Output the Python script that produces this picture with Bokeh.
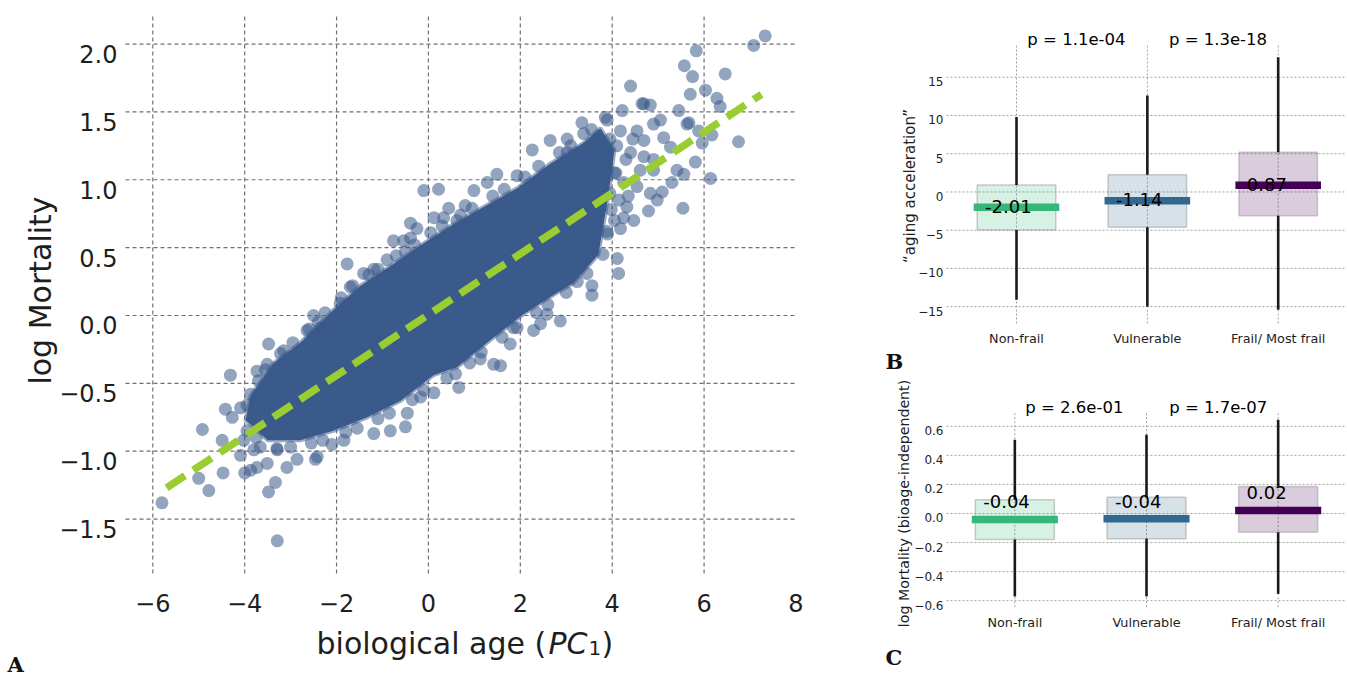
import math
from bokeh.plotting import figure
from bokeh.layouts import row, column
from bokeh.models import Range1d
from bokeh.core.properties import value
from bokeh.embed import file_html
from bokeh.resources import INLINE

# ---------------- Panel A data ----------------
pc1_x = [
    -5.80, -5.00, -4.78, -4.92, -4.47, -4.31, -3.48, -3.33, -3.29, -4.00,
    -4.42, -4.27, -4.49, -4.09, -3.87, -3.73, -3.51, -3.08, -2.86, -2.46,
    -3.48, -3.22, -3.51, -3.73, -3.87, -4.02, -3.80, -2.10, -1.84, -4.09,
    -3.66, -3.29, -2.42, -1.19, -0.83, -0.50, -0.46, 0.12, 0.66, 0.59,
    1.13, 1.57, 1.78, -0.17, 2.29, 3.56, 3.56, 2.87, 2.44, 1.93,
    1.42, 2.58, 3.24, 7.33, 7.08, 5.83, 5.57, 5.75, 6.46, 4.40,
    5.70, 6.03, 6.28, 4.65, 4.83, 5.45, 6.35, 6.75, 5.96, 6.17,
    5.88, 5.63, 5.81, 5.56, 5.41, 6.14, 5.54, 5.30, 5.09, 4.98,
    4.79, 4.90, 5.12, 5.05, 4.18, 4.11, 4.14, 2.26, 2.65, 3.02,
    3.34, 3.38, 1.49, 1.28, 0.99, 0.80, 0.22, -0.10, 0.44, -0.39,
    -0.54, 4.22, 3.85, 4.90, 5.27, 5.67, 4.69, 4.61, 4.47, 4.32,
    4.18, 4.54, 3.89, 4.69, 4.90, 4.83, 4.54, 0.62, 1.93, 3.02,
    4.69, -0.25, -0.76, -0.39, -1.77, -0.90, -1.19, -1.41, -1.70, 0.12,
    0.33, -2.50, -2.64, -2.35, -1.92, 3.95, 4.10, 4.30, 4.05, 4.25,
    4.40, 3.95, 4.15, 4.35, 4.05, 4.25, 3.90, 4.45,
    -3.95, -3.70, -3.55, -3.15, -2.95, -2.60, -2.40, -2.25, -1.90, -1.65,
    -1.30, -1.10, -0.70, -0.50, -0.30, 0.05, 0.30, 0.70, 0.95, 1.40,
    1.65, 2.10, 2.40, 2.85, 3.10, 3.55,
    4.08, 3.98, 3.88, 3.80, 3.45, 3.00, 2.60, 2.35, 1.85, 1.60,
    1.15, 0.90, 0.40, -0.10, -0.35, -0.85, -1.10, -1.55, -1.80, -2.30,
    -2.55, -3.00, -3.30, -3.75, -3.95,
]
logmort_y = [
    -1.38, -1.20, -1.29, -0.84, -1.16, -0.44, -1.30, -1.23, -1.66, -1.16,
    -0.69, -0.75, -0.92, -1.03, -1.14, -1.12, -1.09, -1.12, -1.06, -1.06,
    -0.21, -0.28, -0.36, -0.41, -0.58, -0.92, -0.99, -0.95, -0.92, -0.68,
    -0.97, -0.99, -1.04, -0.87, -0.85, -0.82, -0.72, -0.57, -0.53, -0.43,
    -0.32, -0.37, -0.21, -0.60, -0.11, 0.22, 0.15, -0.04, -0.06, -0.09,
    -0.36, 0.01, 0.25, 2.06, 1.99, 1.95, 1.84, 1.76, 1.78, 1.69,
    1.63, 1.66, 1.60, 1.56, 1.55, 1.51, 1.54, 1.28, 1.27, 1.33,
    1.36, 1.41, 1.13, 1.04, 1.07, 1.01, 0.79, 0.98, 0.91, 0.85,
    0.77, 1.15, 1.31, 1.44, 0.64, 0.42, 0.31, 1.22, 1.29, 1.30,
    1.42, 1.34, 1.04, 0.98, 0.92, 0.81, 0.93, 0.92, 0.79, 0.68,
    0.55, 1.51, 1.46, 1.41, 1.24, 1.42, 1.17, 1.07, 0.70, 0.80,
    1.36, 1.36, 1.44, 1.29, 1.07, 0.90, 0.95, 0.70, 1.03, 1.20,
    1.56, 0.64, 0.55, 0.57, 0.38, 0.41, 0.34, 0.31, 0.21, 0.72,
    0.72, 0.00, -0.11, -0.09, 0.09, 1.30, 1.25, 1.15, 1.05, 0.98,
    1.20, 0.90, 0.85, 0.88, 0.70, 0.72, 0.60, 1.30,
    -0.66, -0.48, -0.40, -0.26, -0.20, -0.10, -0.05, 0.02, 0.13, 0.22,
    0.30, 0.34, 0.44, 0.47, 0.52, 0.61, 0.66, 0.74, 0.79, 0.88,
    0.93, 1.02, 1.10, 1.20, 1.25, 1.37,
    1.05, 0.78, 0.62, 0.45, 0.31, 0.17, 0.08, 0.02, -0.09, -0.16,
    -0.27, -0.35, -0.46, -0.55, -0.62, -0.72, -0.76, -0.83, -0.86, -0.92,
    -0.94, -0.97, -0.98, -0.90, -0.85,
]
# outline of the saturated (fully overlapped) core of the point cloud
core_x = [-3.98, -3.87, -3.37, -2.79, -2.07, -1.48, -0.89, -0.11, 0.48, 1.20,
          1.94, 2.66, 3.37, 3.74, 4.05, 3.90, 3.70, 3.16, 2.81, 2.07,
          1.35, 0.63, 0.11, -0.61, -1.33, -2.07, -2.79, -3.50]
core_y = [-0.77, -0.59, -0.35, -0.20, 0.04, 0.22, 0.35, 0.53, 0.66, 0.80,
          0.94, 1.12, 1.27, 1.38, 1.22, 0.85, 0.45, 0.24, 0.17, 0.01,
          -0.18, -0.38, -0.44, -0.63, -0.75, -0.85, -0.92, -0.92]
fit_x = [-5.70, 7.25]
fit_y = [-1.27, 1.63]
a_xticks = [-6, -4, -2, 0, 2, 4, 6, 8]
a_xtick_labels = ["\u22126", "\u22124", "\u22122", "0", "2", "4", "6", "8"]
a_yticks = [-1.5, -1.0, -0.5, 0.0, 0.5, 1.0, 1.5, 2.0]
a_ytick_labels = ["\u22121.5", "\u22121.0", "\u22120.5", "0.0", "0.5", "1.0", "1.5", "2.0"]

# ---------------- Panels B / C data ----------------
groups = ["Non-frail", "Vulnerable", "Frail/ Most frail"]
group_colors = ["#35b779", "#31688e", "#440154"]

b_mean = [-2.01, -1.14, 0.87]
b_box_lo = [-4.97, -4.63, -3.10]
b_box_hi = [0.92, 2.26, 5.18]
b_wh_lo = [-14.1, -15.0, -15.4]
b_wh_hi = [9.8, 12.6, 17.6]
b_pvalues = ["p = 1.1e-04", "p = 1.3e-18"]
b_yticks = [-15, -10, -5, 0, 5, 10, 15]
b_ytick_labels = ["\u221215", "\u221210", "\u22125", "0", "5", "10", "15"]

c_mean = [-0.041, -0.037, 0.021]
c_box_lo = [-0.179, -0.174, -0.129]
c_box_hi = [0.094, 0.112, 0.186]
c_wh_lo = [-0.571, -0.571, -0.553]
c_wh_hi = [0.507, 0.542, 0.645]
c_pvalues = ["p = 2.6e-01", "p = 1.7e-07"]
c_yticks = [-0.6, -0.4, -0.2, 0.0, 0.2, 0.4, 0.6]
c_ytick_labels = ["\u22120.6", "\u22120.4", "\u22120.2", "0.0", "0.2", "0.4", "0.6"]

FONT = "DejaVu Sans"
SERIF = "DejaVu Serif"
TXT = "#1e1e1e"
BLUE = "#3a5a8b"


class Canvas:
    """A figure whose frame fills the whole canvas; the plot region (page px box)
    maps to the given data ranges, so axes/labels can be drawn around it."""

    def __init__(self, origin, size, box, xr, yr):
        ox, oy = origin
        W, H = size
        l, t, r, b = box
        self.ox, self.oy = ox, oy
        self.xr, self.yr = xr, yr
        self.sx = (r - l) / (xr[1] - xr[0])
        self.sy = (b - t) / (yr[1] - yr[0])
        self.X0 = xr[0] - (l - ox) / self.sx
        X1 = xr[1] + (ox + W - r) / self.sx
        self.Y1 = yr[1] + (t - oy) / self.sy
        Y0 = yr[0] - (oy + H - b) / self.sy
        p = figure(width=W, height=H, x_range=Range1d(self.X0, X1), y_range=Range1d(Y0, self.Y1),
                   x_axis_location=None, y_axis_location=None, min_border=0,
                   output_backend="svg", toolbar_location=None)
        p.grid.visible = False
        p.outline_line_color = None
        p.background_fill_color = "white"
        p.border_fill_color = "white"
        self.p = p

    def X(self, px):
        return self.X0 + (px - self.ox) / self.sx

    def Y(self, py):
        return self.Y1 - (py - self.oy) / self.sy

    def PY(self, y):
        return self.oy + (self.Y1 - y) * self.sy

    def text(self, xs, ys, texts, size, align="left", baseline="alphabetic", angle=0.0,
             font=FONT, style="normal", color=TXT):
        self.p.text(x=xs, y=ys, text=texts, angle=angle, text_font=value(font),
                    text_font_size=value(size), text_font_style=style, text_color=color,
                    text_align=align, text_baseline=baseline)

    def grid(self, xticks, yticks, color, dash, width):
        xs = [t for t in xticks if self.xr[0] < t < self.xr[1]]
        ys = [t for t in yticks if self.yr[0] < t < self.yr[1]]
        self.p.segment(x0=xs, y0=[self.yr[0]] * len(xs), x1=xs, y1=[self.yr[1]] * len(xs),
                       line_color=color, line_dash=dash, line_width=width)
        self.p.segment(x0=[self.xr[0]] * len(ys), y0=ys, x1=[self.xr[1]] * len(ys), y1=ys,
                       line_color=color, line_dash=dash, line_width=width)


# ---------------- Panel A ----------------
A = Canvas((0, 0), (860, 680), (125, 13, 795, 573), (-6.594, 7.99), (-1.901, 2.225))
A.grid(a_xticks, a_yticks, "#707070", "4 3", 1.2)
A.p.patch(core_x, core_y, fill_color=BLUE, line_color=BLUE, line_alpha=0.5, line_width=4)
A.p.scatter(pc1_x, logmort_y, size=13, fill_color=BLUE, fill_alpha=0.55, line_color=None)
A.p.line(fit_x, fit_y, line_color="#9acd32", line_width=7.5, line_dash="22 10", line_cap="butt")

# tick labels
A.text([A.X(117)] * len(a_yticks), [A.Y(A.PY(t) + 10) for t in a_yticks], a_ytick_labels,
       "24px", align="right")
A.text(a_xticks, [A.Y(602)] * len(a_xticks), a_xtick_labels, "24px", align="center")
# axis labels
A.text([A.X(40)], [A.Y(290)], ["log Mortality"], "30px", align="center", angle=math.pi / 2)
A.text([A.X(316)], [A.Y(643)], ["biological age ("], "30px")
A.text([A.X(548)], [A.Y(643)], ["PC"], "30px", style="italic")
A.text([A.X(588)], [A.Y(647)], ["1"], "20px")
A.text([A.X(601)], [A.Y(643)], [")"], "30px")
A.text([A.X(7)], [A.Y(664)], ["A"], "21px", font=SERIF, style="bold", color="#111111")


# ---------------- Panels B and C ----------------
def box_panel(origin, size, box, xr, yr, means, blo, bhi, wlo, whi, pvals, p_base, p_xs,
              yticks, ylabels, ylabel, ylab_size, ylab_x, ylab_y, lbl_off, letter, letter_base):
    C = Canvas(origin, size, box, xr, yr)
    pos = list(range(len(groups)))
    C.grid(pos, yticks, "#a0a0a0", "2 2", 1)
    C.p.quad(left=[i - 0.30 for i in pos], right=[i + 0.30 for i in pos], bottom=blo, top=bhi,
             fill_color=group_colors, fill_alpha=0.2, line_color="#9a9a9a", line_alpha=0.5,
             line_width=1.5)
    C.p.segment(x0=pos, y0=bhi, x1=pos, y1=whi, line_color="#1a1a1a", line_width=2.6)
    C.p.segment(x0=pos, y0=wlo, x1=pos, y1=blo, line_color="#1a1a1a", line_width=2.6)
    C.p.segment(x0=[i - 0.327 for i in pos], y0=means, x1=[i + 0.327 for i in pos], y1=means,
                line_color=group_colors, line_width=7.5, line_cap="butt")
    C.text([i - 0.24 for i in pos], [C.Y(C.PY(m) - lbl_off) for m in means],
           ["%.2f" % m for m in means], "18px", color="#000000")
    # axes
    l, t, r, b = box
    C.text([C.X(l - 3)] * len(yticks), [C.Y(C.PY(v) + 4.5) for v in yticks], ylabels, "12px",
           align="right")
    C.text(pos, [C.Y(b + 15)] * len(pos), groups, "12.8px", align="center")
    C.text([C.X(ylab_x)], [C.Y(ylab_y)], [ylabel], ylab_size, align="center", angle=math.pi / 2)
    C.text(p_xs, [C.Y(p_base)] * len(pvals), pvals, "16.5px", align="center", color="#000000")
    C.text([C.X(885)], [C.Y(letter_base)], [letter], "21px", font=SERIF, style="bold",
           color="#111111")
    return C.p


pB = box_panel((860, 0), (486, 376), (946, 45, 1346, 323), (-0.535, 2.522), (-17.2, 19.15),
               b_mean, b_box_lo, b_box_hi, b_wh_lo, b_wh_hi, b_pvalues, 39.3, [0.458, 1.54],
               b_yticks, b_ytick_labels, "\u201caging acceleration\u201d", "15px", 909.5, 185.5,
               0.8, "B", 361)
pC = box_panel((860, 376), (486, 304), (946, 411.7, 1346, 606.7), (-0.519, 2.519), (-0.645, 0.697),
               c_mean, c_box_lo, c_box_hi, c_wh_lo, c_wh_hi, c_pvalues, 406.7, [0.452, 1.545],
               c_yticks, c_ytick_labels, "log Mortality (bioage-independent)", "14.2px", 903, 503,
               17.5, "C", 657)

layout = row(A.p, column(pB, pC))
open("out.html", "w").write(file_html(layout, INLINE))
